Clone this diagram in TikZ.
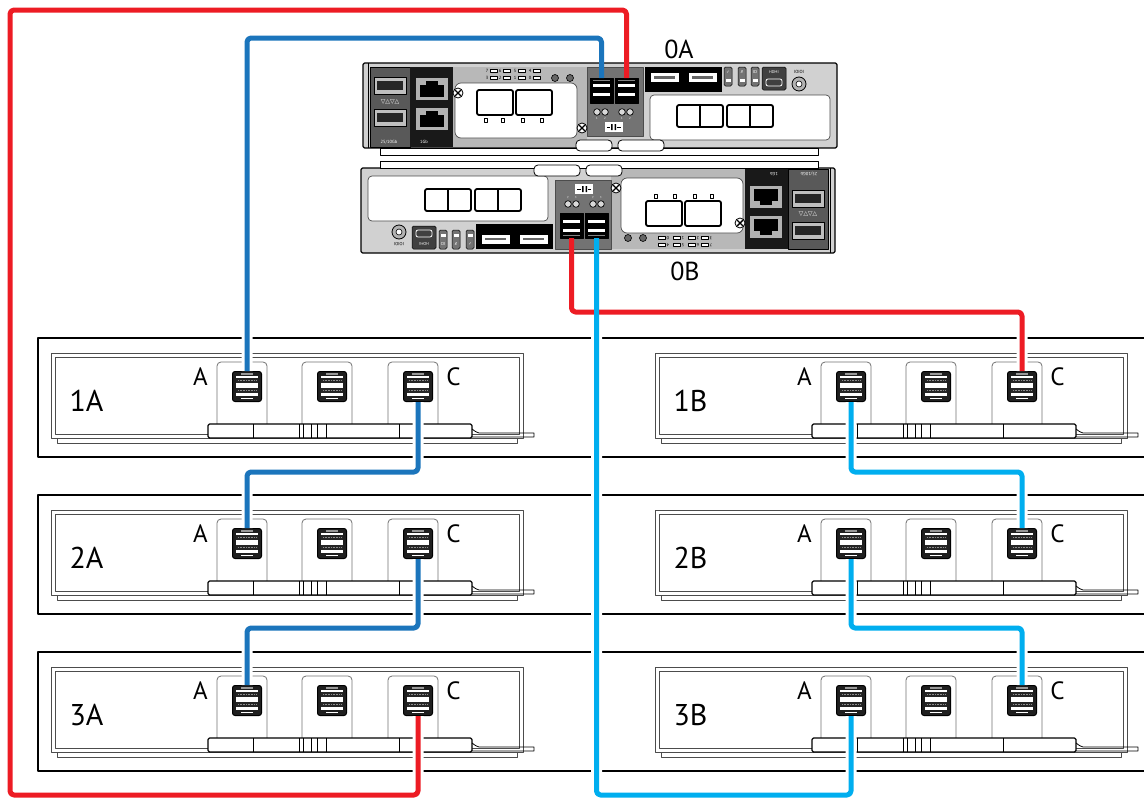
\documentclass[tikz,border=0pt]{standalone}
\usepackage{fontspec}
\setmainfont{PT Sans}
\newfontfamily\dejavu{DejaVu Sans}

\definecolor{cblue}{HTML}{1B75BC}
\definecolor{cred}{HTML}{ED1C24}
\definecolor{ccyan}{HTML}{00AEEF}

% one controller canister, drawn in the coordinates of 0A
\newcommand{\ctrlunit}{%
	\draw[fill=black!18,line width=1.1pt,rounded corners=1.5pt] (363,63) rectangle (837,148);
	\draw[fill=white,line width=0.7pt] (380,148) rectangle (818,155);
	\draw[line width=0.6pt] (368,63) -- (368,148);
	% 25/10Gb
	\draw[fill=black!65,line width=0.6pt] (370,67) rectangle (410,147);
	\foreach \sy in {77,109}{
		\draw[fill=black!25,line width=0.8pt] (374,\sy) rectangle (406,\sy+17);
		\fill[black!85] (377,\sy+4) rectangle (403,\sy+13);
	}
	\node[ctrltext,text=white,font=\dejavu\fontsize{6}{6}\selectfont] at (390,101.5) {▽△▽△};
	\node[ctrltext,text=white] at (389,142) {25/10Gb};
	% 1Gb
	\fill[black!90] (410,67) rectangle (453,147);
	\foreach \sy in {78,108}{
		\fill[black!30] (416,\sy) rectangle (448,\sy+22);
		\fill[black] (420,\sy+7) rectangle (444,\sy+19);
		\fill[black] (426,\sy+3) rectangle (438,\sy+7);
	}
	\node[ctrltext,text=white] at (424,142) {1Gb};
	% centre board
	\fill[black!28] (453,67) rectangle (587,147);
	\draw[fill=white,draw=black!70,line width=0.7pt,rounded corners=6pt] (455,83) rectangle (577,138);
	\foreach \lx/\ta/\tb in {490/7/3,503/6/2,518/5/1,533/4/0}{
		\draw[fill=white,line width=0.5pt] (\lx,69.5) rectangle (\lx+7,72.5);
		\draw[fill=white,line width=0.5pt] (\lx,76.5) rectangle (\lx+7,79.5);
		\node[ctrltext] at (\lx-3,71) {\ta};
		\node[ctrltext] at (\lx-3,78) {\tb};
	}
	\foreach \cx in {555,570} \draw[fill=black!60,line width=0.6pt] (\cx,78) circle (3.5pt);
	\foreach \qx in {477,516} \draw[line width=1.8pt,fill=white,rounded corners=2pt] (\qx,90) rectangle (\qx+36,115);
	\foreach \qx in {486,503,523,542} \draw[line width=0.8pt,fill=white] (\qx-1.5,118) rectangle (\qx+1.5,122);
	\draw[fill=white,line width=0.8pt] (458,93) circle (5pt);
	\draw[line width=1.4pt] (455,90) -- (461,96) (455,96) -- (461,90);
	% SAS ports
	\draw[fill=black!55,draw=black!70,line width=0.6pt] (587,67) rectangle (643,136);
	\foreach \sx in {590,615}{
		\draw[fill=black,line width=0.6pt] (\sx,78) rectangle (\sx+23,103);
		\fill[white] (\sx+3,84) rectangle (\sx+20,87);
		\fill[white] (\sx+3,93) rectangle (\sx+20,96);
		\fill[black!50] (\sx+3,80) rectangle (\sx+20,81);
	}
	\foreach \cx/\n in {597/1,605/2,622/1,630/2}{
		\draw[fill=black!15,line width=0.7pt] (\cx,112) circle (3.3pt);
		\node[ctrltext,font=\fontsize{3}{3}\selectfont,text=white] at (\cx,118) {\n};
	}
	\fill[white] (605,122) rectangle (623,132);
	\fill[black] (611,124) rectangle (612.5,130) (614.5,124) rectangle (616,130);
	\draw[line width=0.5pt] (607,127) -- (610,127) (617,127) -- (621,127);
	\draw[fill=white,line width=0.8pt] (582,128) circle (5pt);
	\draw[line width=1.4pt] (579,125) -- (585,131) (579,131) -- (585,125);
	% USB
	\fill[black] (645,67) rectangle (722,92);
	\foreach \ux in {650,688}{
		\draw[fill=white,line width=0.6pt] (\ux,72) rectangle (\ux+29,82);
		\fill[black!60] (\ux+4,76) rectangle (\ux+25,78.5);
	}
	% status LEDs
	\foreach \lx/\ic in {728/✓,742/✗,755/ID}{
		\draw[fill=black!55,line width=0.5pt,rounded corners=1.5pt] (\lx-4,67) rectangle (\lx+4,86);
		\fill[white] (\lx-2.5,79) rectangle (\lx+2.5,82);
		\node[ctrltext,text=white,font=\dejavu\fontsize{4}{4}\selectfont] at (\lx,72) {\ic};
	}
	% HDMI
	\draw[fill=black!75,line width=0.5pt,rounded corners=1.5pt] (762,67) rectangle (786,90);
	\node[ctrltext,text=white,font=\fontsize{4}{4}\selectfont] at (774,72) {HDMI};
	\draw[white,line width=0.8pt,rounded corners=2pt] (766,79) rectangle (782,86);
	% coax
	\node[ctrltext] at (799,72) {IOIOI};
	\draw[fill=black!30,line width=0.8pt] (799,84) circle (7pt);
	\draw[fill=white,line width=0.6pt] (799,84) circle (3pt);
	% lower bay
	\draw[fill=white,draw=black!70,line width=0.7pt,rounded corners=4pt] (650,95) rectangle (830,140);
	\foreach \qx in {677,727}{
		\draw[line width=1.8pt,fill=white,rounded corners=2pt] (\qx,105) rectangle (\qx+46,127);
		\draw[line width=1.2pt] (\qx+23,105) -- (\qx+23,127);
	}
	% latches
	\draw[fill=white,line width=0.8pt,rounded corners=4pt] (576,140) rectangle (612,151);
	\draw[fill=white,line width=0.8pt,rounded corners=4pt] (618,140) rectangle (664,151);
}

% the six SAS runs
\newcommand{\cableruns}[1]{%
	\draw[cblue,#1] (c0A-1) -- (c0A-1 |- lvtop) -| (p1A-a.north);
	\draw[cblue,#1] (p1A-c.south) -- (p1A-c.south |- lvone) -| (p2A-a.north);
	\draw[cblue,#1] (p2A-c.south) -- (p2A-c.south |- lvtwo) -| (p3A-a.north);
	\draw[cred,#1] (c0A-2) -- (c0A-2 |- lvred) -| (edge |- lvbot) -| (p3A-c.south);
	\draw[cred,#1] (c0B-1) -- (c0B-1 |- lvmid) -| (p1B-c.north);
	\draw[ccyan,#1] (c0B-2) -- (c0B-2 |- lvbot) -| (p3B-a.south);
	\draw[ccyan,#1] (p1B-a.south) -- (p1B-a.south |- lvone) -| (p2B-c.north);
	\draw[ccyan,#1] (p2B-a.south) -- (p2B-a.south |- lvtwo) -| (p3B-c.north);
}

\begin{document}
\begin{tikzpicture}[line join=round,x=1pt,y=-1pt,
	rowbox/.style={line width=2.4pt},
	panel/.style={draw=black!70,line width=0.8pt},
	tab/.style={draw=black!55,line width=0.8pt,rounded corners=4pt},
	tray/.style={draw=black,line width=1.2pt,fill=white,rounded corners=1.5pt},
	sasport/.style={draw=black,fill=black!88,line width=1pt,rounded corners=2.5pt,minimum width=29pt,minimum height=30pt,inner sep=0pt},
	ctrltext/.style={inner sep=0pt,font=\fontsize{4.5}{4.5}\selectfont},
	lbl/.style={inner sep=0pt,font=\fontsize{25}{25}\selectfont},
	shelfname/.style={inner sep=0pt,font=\fontsize{30}{30}\selectfont},
	unitname/.style={inner sep=0pt,font=\fontsize{26}{26}\selectfont},
	cable/.style={line width=5pt,rounded corners=4pt},
	halo/.style={line width=11pt,rounded corners=4pt,white}]
	\useasboundingbox (0,0) rectangle (1144,798);
	\clip (0,0) rectangle (1144,798);
	\fill[white] (0,0) rectangle (1144,798);

	% expansion shelves
	\foreach \rownum/\dy in {1/0,2/157,3/314}{
		\draw[rowbox] (38,338+\dy) rectangle (1170,457+\dy);
		\foreach \side/\dx in {A/0,B/604}{
			\begin{scope}[shift={(\dx,\dy)}]
				\draw[panel] (51,353) rectangle (523,438);
				\draw[panel] (55,357) rectangle (519,434);
				\draw[panel] (57,438) rectangle (517,443);
				\foreach \px in {247,332,418}
				\draw[tab] (\px-30,424) |- (\px+20,362) -- (\px+20,424);
				\draw[tray] (208,424) rectangle (472,438);
				\foreach \tx in {253,299,303,311,317,326,399}
				\draw[line width=0.8pt] (\tx,424) -- (\tx,438);
				\draw[line width=0.8pt] (472,429) .. controls (476,432) .. (479,433) -- (534,433) -- (534,437) -- (472,437);
				\foreach \px/\pn in {247/a,332/b,418/c}{
					\node[sasport] (p\rownum\side-\pn) at (\px,386.5) {};
					\fill[white] (\px-11,376) rectangle (\px+11,396);
					\fill[black!85] (\px-11,377.5) rectangle (\px+11,382.5);
					\fill[black!85] (\px-11,388) rectangle (\px+11,393);
					\draw[black!45,densely dotted,line width=0.6pt] (\px-9,380) -- (\px+9,380) (\px-9,390.5) -- (\px+9,390.5);
					\fill[black!40] (\px-6,373) rectangle (\px+6,374.5);
					\fill[white] (\px-6,397.5) rectangle (\px+6,399);
				}
				\node[lbl] (a\rownum\side) at (200.5,376.5) {A};
				\node[lbl] (c\rownum\side) at (453.5,376.5) {C};
				\node[shelfname] (n\rownum\side) at (86.5,401) {\rownum\side};
			\end{scope}
		}
	}

	% controller ports and cable levels
	\coordinate (c0A-1) at (601.5,78);
	\coordinate (c0A-2) at (626.5,78);
	\coordinate (c0B-1) at (571.5,238);
	\coordinate (c0B-2) at (596.5,238);
	\coordinate (lvred) at (0,10);
	\coordinate (lvtop) at (0,38);
	\coordinate (lvmid) at (0,312);
	\coordinate (lvone) at (0,472);
	\coordinate (lvtwo) at (0,628);
	\coordinate (lvbot) at (0,795);
	\coordinate (edge) at (10,0);

	\cableruns{halo}

	% controllers
	\ctrlunit
	\begin{scope}[rotate around={180:(599,158)},transform shape]
		\ctrlunit
	\end{scope}
	\node[unitname] (l0A) at (679,49) {0A};
	\node[unitname] (l0B) at (685,271) {0B};

	\cableruns{cable}
\end{tikzpicture}
\end{document}
